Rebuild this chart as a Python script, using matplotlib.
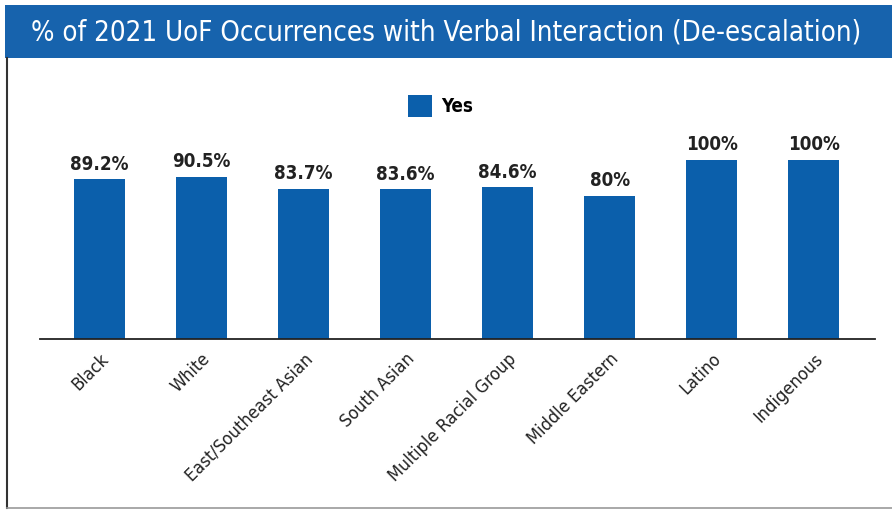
import matplotlib.pyplot as plt
from matplotlib.patches import Rectangle
from matplotlib.lines import Line2D

groups = ['Black', 'White', 'East/Southeast Asian', 'South Asian',
          'Multiple Racial Group', 'Middle Eastern', 'Latino', 'Indigenous']
yes_pct = [89.2, 90.5, 83.7, 83.6, 84.6, 80, 100, 100]
value_labels = ['89.2%', '90.5%', '83.7%', '83.6%', '84.6%', '80%', '100%', '100%']

blue = '#0b5fab'
banner_blue = '#1763ad'

plt.rcParams['font.family'] = ['DejaVu Sans']
plt.rcParams['font.stretch'] = 'condensed'

W, H = 892, 512
fig = plt.figure(figsize=(W / 100, H / 100), dpi=100)
fig.patch.set_facecolor('white')

# title banner and panel frame
fig.patches.append(Rectangle((5 / W, 1 - 58 / H), 1 - 5 / W, 53 / H,
                             transform=fig.transFigure, facecolor=banner_blue,
                             edgecolor='none', zorder=0))
fig.text(446 / W, 1 - 33 / H, '% of 2021 UoF Occurrences with Verbal Interaction (De-escalation)',
         color='white', fontsize=19.8, ha='center', va='center')
fig.lines.append(Line2D([7 / W, 7 / W], [1 - 58 / H, 1 - 508 / H],
                        transform=fig.transFigure, color='#333333', lw=1.5))
fig.lines.append(Line2D([7 / W, 1], [1 - 508 / H, 1 - 508 / H],
                        transform=fig.transFigure, color='#999999', lw=1.2))

ax = fig.add_axes([40 / W, 1 - 339 / H, 835 / W, 215 / H])
x = range(len(groups))
bars = ax.bar(x, yes_pct, width=0.5, color=blue, label='Yes', zorder=2)
ax.set_xlim(-0.58, 7.6)
ax.set_ylim(0, 120)

for b, lab in zip(bars, value_labels):
    ax.annotate(lab, (b.get_x() + b.get_width() / 2, b.get_height()),
                xytext=(0, 4), textcoords='offset points', ha='center', va='bottom',
                fontsize=13.5, fontweight='bold', color='#222222')

for s in ['top', 'right', 'left']:
    ax.spines[s].set_visible(False)
ax.spines['bottom'].set_color('#222222')
ax.spines['bottom'].set_linewidth(1.3)
ax.set_yticks([])
ax.set_xticks(list(x))
ax.set_xticklabels(groups, rotation=45, ha='right', rotation_mode='anchor',
                   fontsize=13, color='#222222')
ax.tick_params(axis='x', length=0, pad=8)

ax.legend(loc='center', bbox_to_anchor=(0.48, 1.085), frameon=False,
          prop={'weight': 'bold', 'size': 13.5}, handlelength=1.25, handleheight=1.4,
          handletextpad=0.5)

fig.savefig('out.png', dpi=100)
